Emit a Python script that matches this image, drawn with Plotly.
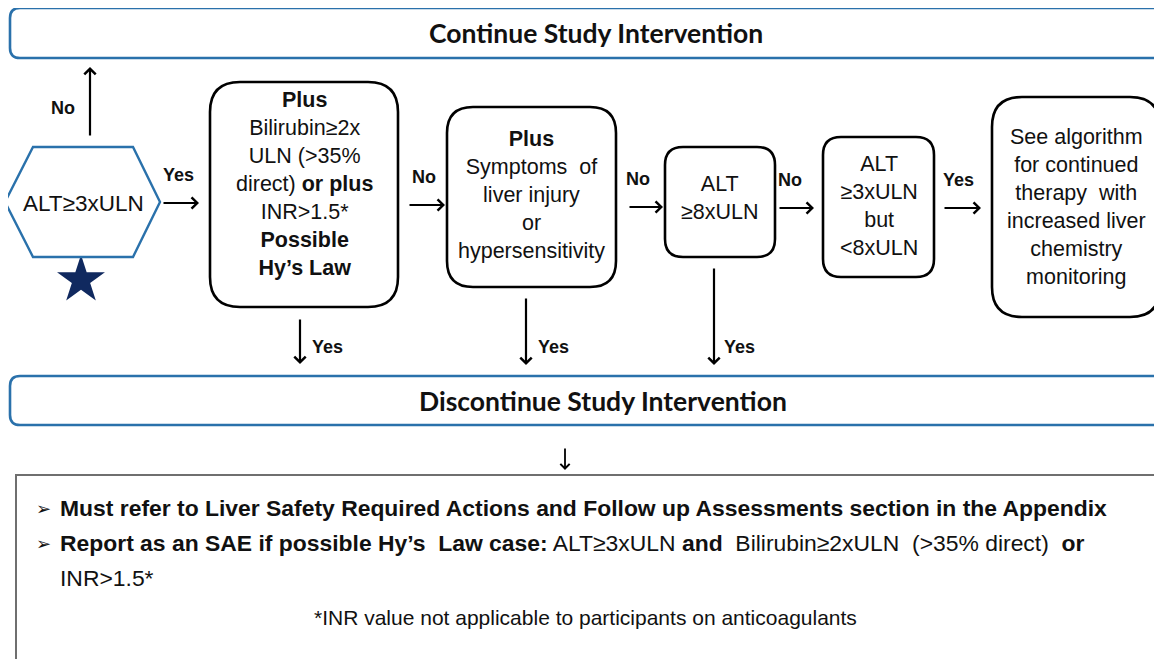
import plotly.graph_objects as go

# ---------------- data (texts of the flowchart) ----------------
top_banner = "Continue Study Intervention"
bottom_banner = "Discontinue Study Intervention"

start_label = "ALT≥3xULN"

box_labels = [
    "<b>Plus</b><br>Bilirubin≥2x<br>ULN (>35%<br>direct) <b>or plus</b><br>INR>1.5*<br><b>Possible</b><br><b>Hy’s Law</b>",
    "<b>Plus</b><br>Symptoms  of<br>liver injury<br>or<br>hypersensitivity",
    "ALT<br>≥8xULN",
    "ALT<br>≥3xULN<br>but<br><8xULN",
    "See algorithm<br>for continued<br>therapy  with<br>increased liver<br>chemistry<br>monitoring",
]
# horizontal connector labels (between start / boxes)
h_labels = ["Yes", "No", "No", "No", "Yes"]
# downward connector labels (to "Discontinue")
down_labels = ["Yes", "Yes", "Yes"]
up_label = "No"

bullet_lines = [
    "<b>Must refer to Liver Safety Required Actions and Follow up Assessments section in the Appendix</b>",
    "<b>Report as an SAE if possible Hy’s  Law case:</b> ALT≥3xULN <b>and</b>  Bilirubin≥2xULN  (>35% direct)  <b>or</b>",
]
continuation_line = "INR>1.5*"
footnote = "*INR value not applicable to participants on anticoagulants"

# ---------------- layout geometry ----------------
# The page body has an 8px margin, so the figure is shifted by 8px; the axis
# ranges are chosen so that data units equal page pixels.
PAD = 8
W, H = 1162, 667
FIG_W, FIG_H = W - PAD, H - 2 * PAD
BLUE = "#2a71ab"
NAVY = "#10295f"
ARIAL = "Liberation Sans, Arial, sans-serif"
TITLEF = "Lato, Carlito, Calibri, sans-serif"
TXT = "#111111"

box_geom = [  # x0, y0, x1, y1, radius, text-center-y
    (210, 82, 398, 307, 30, 184),
    (447, 107, 616, 287, 26, 195),
    (665, 147, 775, 257, 18, 198),
    (823, 137, 934, 277, 18, 206),
    (992, 97, 1160, 317, 30, 207),
]
h_arrows = [  # tail x, head x, y, label x
    (162, 199, 203, 178),
    (408, 445, 205, 424),
    (628, 663, 207, 638),
    (778, 814, 208, 790),
    (943, 981, 208, 958),
]
down_arrows = [  # x, y tail, y head, label x
    (300, 318, 364, 327),
    (526, 297, 365, 553),
    (714, 267, 365, 739),
]


def rrect(x0, y0, x1, y1, r):
    return (f"M{x0+r},{y0} L{x1-r},{y0} Q{x1},{y0} {x1},{y0+r} "
            f"L{x1},{y1-r} Q{x1},{y1} {x1-r},{y1} L{x0+r},{y1} "
            f"Q{x0},{y1} {x0},{y1-r} L{x0},{y0+r} Q{x0},{y0} {x0+r},{y0} Z")


shapes = []
annotations = []

# banners
shapes.append(dict(type="path", path=rrect(10, 8, 1190, 58, 10),
                   line=dict(color=BLUE, width=2.6), fillcolor="white", layer="below"))
shapes.append(dict(type="path", path=rrect(10, 376, 1190, 425, 10),
                   line=dict(color=BLUE, width=2.6), fillcolor="white", layer="below"))
annotations.append(dict(x=596, y=33, text=f"<b>{top_banner}</b>", showarrow=False,
                        font=dict(family=TITLEF, size=26.5, color=TXT)))
annotations.append(dict(x=603, y=401, text=f"<b>{bottom_banner}</b>", showarrow=False,
                        font=dict(family=TITLEF, size=26.5, color=TXT)))

# start hexagon
shapes.append(dict(type="path",
                   path="M5,202 L33,147 L133,147 L160,202 L133,257 L33,257 Z",
                   line=dict(color=BLUE, width=2.4), fillcolor="white"))
annotations.append(dict(x=83, y=203, text=start_label, showarrow=False,
                        font=dict(family=ARIAL, size=22.5, color=TXT)))

# decision boxes
for (x0, y0, x1, y1, r, ty), lab in zip(box_geom, box_labels):
    shapes.append(dict(type="path", path=rrect(x0, y0, x1, y1, r),
                       line=dict(color="black", width=2.6), fillcolor="white"))
    annotations.append(dict(x=(x0 + x1) / 2, y=ty, text=lab, showarrow=False,
                            font=dict(family=ARIAL, size=21.5, color=TXT)))

arrow_style = dict(showarrow=True, arrowhead=4, arrowsize=1, arrowwidth=2.2,
                   arrowcolor="black", axref="x", ayref="y", text="",
                   standoff=0, startstandoff=0)

# up arrow to "Continue"
annotations.append(dict(x=90, y=67, ax=90, ay=137, **arrow_style))
annotations.append(dict(x=63, y=108, text=f"<b>{up_label}</b>", showarrow=False,
                        font=dict(family=ARIAL, size=18, color=TXT)))

# horizontal arrows
for (xt, xh, y, lx), lab in zip(h_arrows, h_labels):
    annotations.append(dict(x=xh, y=y, ax=xt, ay=y, **arrow_style))
    annotations.append(dict(x=lx, y=y - 28, text=f"<b>{lab}</b>", showarrow=False,
                            font=dict(family=ARIAL, size=18, color=TXT)))

# downward arrows
for (x, yt, yh, lx), lab in zip(down_arrows, down_labels):
    annotations.append(dict(x=x, y=yh, ax=x, ay=yt, **arrow_style))
    annotations.append(dict(x=lx, y=347, text=f"<b>{lab}</b>", showarrow=False,
                            font=dict(family=ARIAL, size=18, color=TXT)))

# small arrow below "Discontinue"
annotations.append(dict(x=565, y=470, ax=565, ay=447, showarrow=True, arrowhead=4,
                        arrowsize=1, arrowwidth=1.8, arrowcolor="black",
                        axref="x", ayref="y", text="", standoff=0))

# bottom information box
shapes.append(dict(type="rect", x0=16, y0=475, x1=1200, y1=700,
                   line=dict(color="#6f6f6f", width=2), fillcolor="white", layer="below"))
for y, line in zip([508, 543], bullet_lines):
    annotations.append(dict(x=43, y=y, text="➢", showarrow=False, xanchor="center",
                            font=dict(family="DejaVu Sans", size=18, color=TXT)))
    annotations.append(dict(x=58, y=y, text=line, showarrow=False, xanchor="left",
                            font=dict(family=ARIAL, size=22.9, color=TXT)))
annotations.append(dict(x=58, y=578, text=continuation_line, showarrow=False, xanchor="left",
                        font=dict(family=ARIAL, size=22.9, color=TXT)))
annotations.append(dict(x=585, y=617, text=footnote, showarrow=False,
                        font=dict(family=ARIAL, size=21, color=TXT)))

fig = go.Figure()
# star marker under the start hexagon
fig.add_trace(go.Scatter(x=[81], y=[280], mode="markers",
                         marker=dict(symbol="star", size=36, color=NAVY, line=dict(width=0)),
                         hoverinfo="skip", showlegend=False))

fig.update_layout(
    width=FIG_W, height=FIG_H,
    margin=dict(l=0, r=0, t=0, b=0),
    paper_bgcolor="white", plot_bgcolor="white",
    xaxis=dict(range=[PAD, PAD + FIG_W], visible=False, fixedrange=True),
    yaxis=dict(range=[PAD + FIG_H, PAD], visible=False, fixedrange=True),
    shapes=shapes, annotations=annotations, showlegend=False,
)
fig.write_html("out.html")
